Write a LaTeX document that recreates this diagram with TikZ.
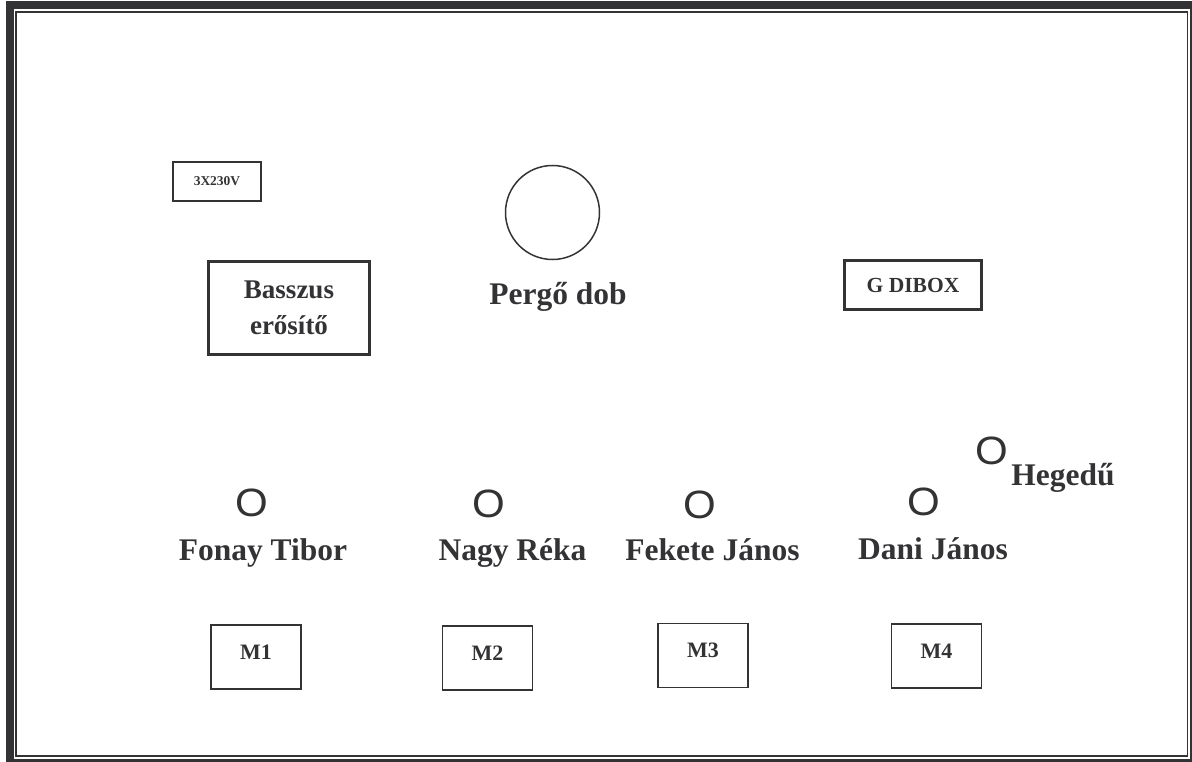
\documentclass[tikz,border=0pt]{standalone}
\usepackage{fontspec}
\setmainfont{Liberation Serif}
\newfontfamily\arialfont{Liberation Sans}
\usepackage{color}
\usepackage{graphicx}
\definecolor{ink}{RGB}{51,51,54}
\newcommand{\micO}{\scalebox{1.065}[1]{O}}

\begin{document}
\begin{tikzpicture}[x=1pt,y=-1pt]
      \tikzstyle{every node}=[text=ink,font=\bfseries]
      \tikzstyle{box}=[rectangle,draw=ink,line width=1.7pt,inner sep=0pt]
      \tikzstyle{thickbox}=[box,line width=3.3pt]
      \tikzstyle{mbox}=[box,minimum width=90pt,minimum height=64pt,text height=15pt,text depth=11pt,font=\fontsize{22}{26}\selectfont\bfseries]
      \tikzstyle{player}=[anchor=base,inner sep=0pt,font=\fontsize{31.5}{38}\selectfont\bfseries]
      \tikzstyle{mic}=[inner sep=0pt,font=\arialfont\fontsize{39.5}{46}\selectfont]
      \useasboundingbox (0,0) rectangle (1192,762);
      % page border
      \draw[ink,line width=8.5pt] (10,4.8) rectangle (1193.9,762.9);
      \draw[ink,line width=1.6pt] (16,11.8) rectangle (1187.3,756.2);
      % back line
      \node[box,minimum width=88pt,minimum height=39pt,font=\fontsize{13.5}{16}\selectfont\bfseries] (power) at (217,181.5) {3X230V};
      \node[thickbox,minimum width=161pt,minimum height=93pt,align=center,font=\fontsize{27}{36}\selectfont\bfseries] (bassamp) at (289,308) {Basszus\\erősítő};
      \node[circle,draw=ink,line width=1.5pt,minimum size=94pt,inner sep=0pt] (snare) at (552.5,212.5) {};
      \node[player] (snarelabel) at (558,305) {Pergő dob};
      \node[thickbox,minimum width=137pt,minimum height=49pt,font=\fontsize{21.5}{26}\selectfont\bfseries] (dibox) at (913,285) {G DIBOX};
      % players
      \node[mic] (o1) at (251.5,502.5) {\micO};
      \node[player] (p1) at (263,560) {Fonay Tibor};
      \node[mic] (o2) at (489,504) {\micO};
      \node[player] (p2) at (512.5,560) {Nagy Réka};
      \node[mic] (o3) at (699.5,505) {\micO};
      \node[player] (p3) at (712.5,560) {Fekete János};
      \node[mic] (o4) at (923.5,502) {\micO};
      \node[player] (p4) at (933,559) {Dani János};
      \node[mic] (o5) at (991.5,451) {\micO};
      \node[player] (p5) at (1063,485) {Hegedű};
      % monitors
      \node[mbox] (m1) at (256,657) {M1};
      \node[mbox] (m2) at (487.5,658) {M2};
      \node[mbox] (m3) at (703,655.5) {M3};
      \node[mbox] (m4) at (936.5,656) {M4};
\end{tikzpicture}
\end{document}
